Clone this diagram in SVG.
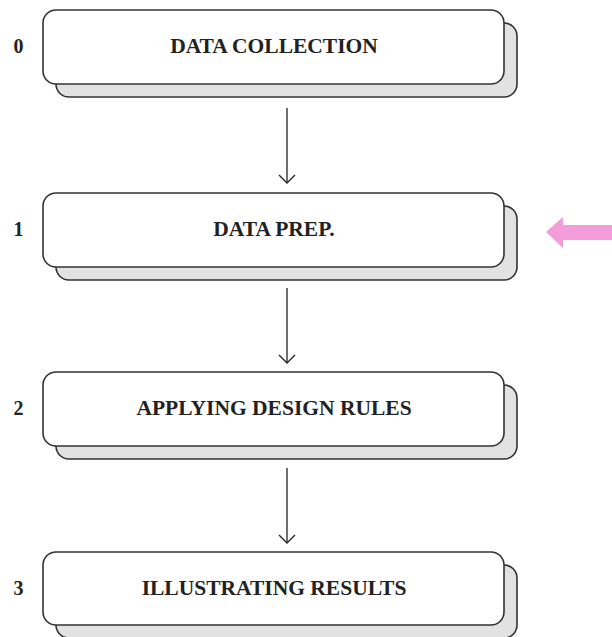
<svg xmlns="http://www.w3.org/2000/svg" width="612" height="637" viewBox="0 0 612 637">
  <defs>
    <style>
      .back { fill: #e2e2e2; stroke: #333; stroke-width: 1.6; }
      .front { fill: #fff; stroke: #333; stroke-width: 1.6; }
      .label { font-family: "Liberation Serif", "DejaVu Serif", serif; font-weight: bold; font-size: 21.5px; fill: #222; text-anchor: middle; }
      .num { font-family: "Liberation Serif", "DejaVu Serif", serif; font-weight: bold; font-size: 20px; fill: #222; text-anchor: middle; }
      .conn { stroke: #222; stroke-width: 1.3; fill: none; }
    </style>
    <marker id="head" viewBox="0 0 10 18" refX="9" refY="9" markerWidth="10" markerHeight="18" markerUnits="userSpaceOnUse" orient="auto">
      <path d="M1,1 L9,9 L1,17" fill="none" stroke="#222" stroke-width="1.3"/>
    </marker>
  </defs>
  <rect width="612" height="637" fill="#fff"/>

  <g id="step0">
    <rect class="back" x="56" y="23" width="461" height="74" rx="13"/>
    <rect class="front" x="43" y="10" width="461" height="74" rx="13"/>
    <text class="num" x="18.5" y="53">0</text>
    <text class="label" x="274" y="53">DATA COLLECTION</text>
  </g>

  <g id="step1">
    <rect class="back" x="56" y="206" width="461" height="74" rx="13"/>
    <rect class="front" x="43" y="193" width="461" height="74" rx="13"/>
    <text class="num" x="18.5" y="236">1</text>
    <text class="label" x="274" y="236">DATA PREP.</text>
  </g>

  <g id="step2">
    <rect class="back" x="56" y="385" width="461" height="74" rx="13"/>
    <rect class="front" x="43" y="372" width="461" height="74" rx="13"/>
    <text class="num" x="18.5" y="415">2</text>
    <text class="label" x="274" y="415">APPLYING DESIGN RULES</text>
  </g>

  <g id="step3">
    <rect class="back" x="56" y="565" width="461" height="73" rx="13"/>
    <rect class="front" x="43" y="552" width="461" height="73" rx="13"/>
    <text class="num" x="18.5" y="595">3</text>
    <text class="label" x="274" y="595">ILLUSTRATING RESULTS</text>
  </g>

  <g id="highlight">
    <path d="M546,232 L563,217 L563,225 L612,225 L612,240 L563,240 L563,248 Z" fill="#f49bd9"/>
  </g>

  <g id="connectors">
    <line class="conn" x1="287" y1="108" x2="287" y2="183" marker-end="url(#head)"/>
    <line class="conn" x1="287" y1="288" x2="287" y2="363" marker-end="url(#head)"/>
    <line class="conn" x1="287" y1="468" x2="287" y2="543" marker-end="url(#head)"/>
  </g>
</svg>
